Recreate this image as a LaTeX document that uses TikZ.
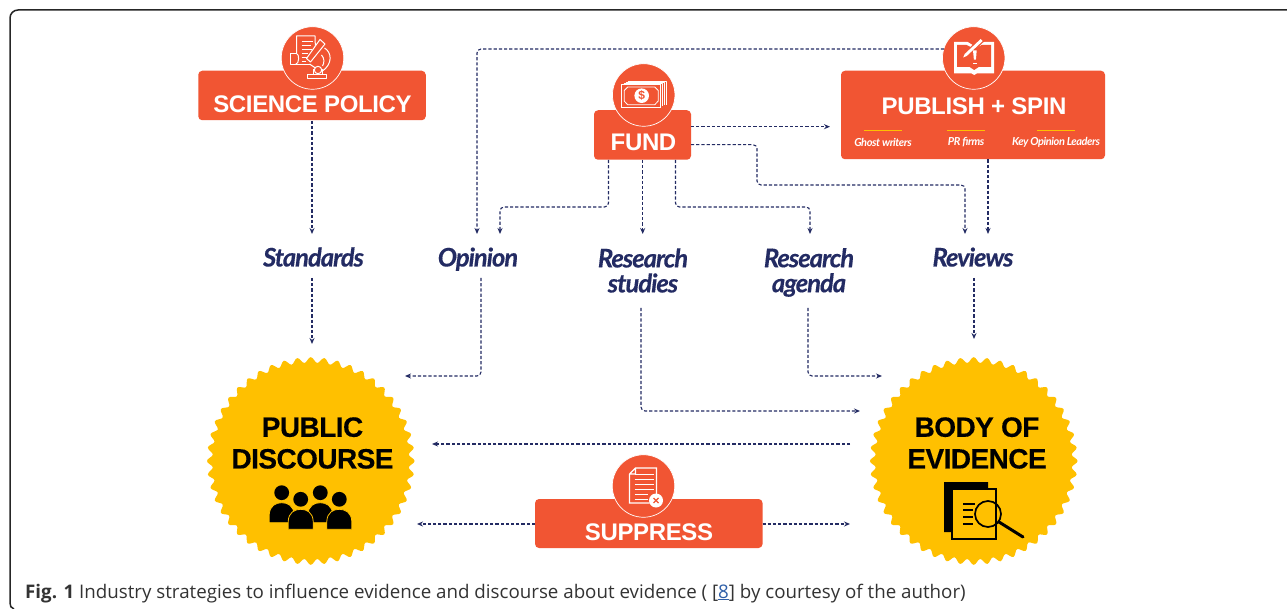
\documentclass[tikz,border=0pt]{standalone}
\usepackage{fontspec}
\setmainfont{Liberation Sans}
\newfontfamily\labfont[LetterSpace=-4,FakeBold=0.3]{Lato}
\newfontfamily\subfont[LetterSpace=-4]{Lato}
\newfontfamily\boxfont[LetterSpace=-1.5]{Liberation Sans}
\newfontfamily\sealfont[LetterSpace=-2,FakeBold=0.3]{Liberation Sans}
\newfontfamily\capfont{Open Sans}
\usetikzlibrary{arrows.meta,calc}
\definecolor{navy}{HTML}{232B63}
\definecolor{brick}{HTML}{F15533}
\definecolor{seal}{HTML}{FFC000}
\definecolor{capgray}{HTML}{333333}
\definecolor{linkblue}{HTML}{2F5FA8}
\tikzset{
  x=1pt,y=-1pt,
  conn/.style={draw=navy,line width=1.1pt,dash pattern=on 3.2pt off 2pt,rounded corners=4pt,-{Stealth[length=6pt,width=5pt]}},
  box/.style={fill=brick,rounded corners=4pt,inner sep=0pt},
  boxtext/.style={anchor=base,inner sep=0pt,text=white,font=\boxfont\fontsize{24}{24}\selectfont\bfseries},
  badge/.style={circle,fill=brick,draw=white,line width=0.7pt,minimum size=62.5pt,inner sep=0pt},
  lab/.style={inner sep=0pt,align=center,text=navy,font=\labfont\fontsize{25.6}{25}\selectfont\bfseries\itshape},
  sealtext/.style={inner sep=0pt,align=center,text=black,font=\sealfont\fontsize{28}{31.7}\selectfont\bfseries},
  ico/.style={draw=white,line width=1pt,line join=round},
  sub/.style={inner sep=0pt,text=white,font=\subfont\fontsize{11}{12}\selectfont\bfseries\itshape},
  goldrule/.style={seal,line width=0.9pt},
}
\newcommand{\sealshape}[2]{%
  \begin{scope}[shift={(#1,#2)}]
  \fill[seal] plot[smooth cycle,domain=0:47.875,samples=384] ({7.5*\x}:{101+2.8*cos(360*mod(\x,1))});
  \end{scope}}
\newcommand{\persona}[4]{%
    \fill[black,draw=#4,line width=0.8pt] ({#1-12.5},{#2+30}) -- ({#1-12.5},{#2+22}) .. controls ({#1-12},{#2+13}) and ({#1-6},{#2+10}) .. (#1,{#2+10}) .. controls ({#1+6},{#2+10}) and ({#1+12},{#2+13}) .. ({#1+12.5},{#2+22}) -- ({#1+12.5},{#2+30}) -- cycle;
    \fill[black] (#1,#2) circle (#3);}
\begin{document}
\begin{tikzpicture}
\useasboundingbox (0,0) rectangle (1287,609);
\fill[white] (0,0) rectangle (1287,609);
\draw[black!85,line width=1.5pt,rounded corners=8pt] (10,603) -- (10,10) -- (1287,10);
\draw[black!85,line width=1.5pt] (10,603) .. controls (10,606) and (11,608) .. (14,609);

% seals
\sealshape{310.8}{461}
\sealshape{973.7}{461}
\node[sealtext] (pdt) at (312.5,443) {PUBLIC\\DISCOURSE};
\node[sealtext] (boet) at (977,443) {BODY OF\\EVIDENCE};

% boxes
\node[box,minimum width=227.5pt,minimum height=49.5pt] (sci) at (312,95.5) {};
\node[boxtext] (scit) at (312.5,113) {SCIENCE POLICY};
\node[badge] (sciicon) at (312.5,58) {};
\node[box,minimum width=97pt,minimum height=49.5pt] (fund) at (642.5,135) {};
\node[boxtext] (fundt) at (643.5,151) {FUND};
\node[badge] (fundicon) at (643.7,95) {};
\node[box,minimum width=264pt,minimum height=88.5pt] (pub) at (973,115) {};
\node[boxtext] (pubt) at (974,115) {PUBLISH + SPIN};
\node[badge] (pubicon) at (973.7,58) {};
\node[box,minimum width=227.5pt,minimum height=49pt] (sup) at (648.8,523.5) {};
\node[boxtext] (supt) at (649,540) {SUPPRESS};
\node[badge] (supicon) at (643.5,486) {};

% publish sub labels
\node[sub] (gw) at (883,142) {Ghost writers};
\node[sub] (pr) at (966,142) {PR firms};
\node[sub] (kol) at (1056,142.5) {Key Opinion Leaders};
\path (883,130) coordinate (gc) (966,130) coordinate (pc) (1056,130) coordinate (kc);
\draw[goldrule] ($(gc)+(-19,0)$) -- ($(gc)+(19,0)$);
\draw[goldrule] ($(pc)+(-19,0)$) -- ($(pc)+(19,0)$);
\draw[goldrule] ($(kc)+(-19,0)$) -- ($(kc)+(19,0)$);

% free ends
\coordinate (pubL) at (944,49);
\coordinate (opinIn) at (477,234);
\coordinate (fundR1) at (691,126.7);
\coordinate (pubIn) at (830,126.7);
\coordinate (fundR2) at (691,144.7);
\coordinate (revIn1) at (965,234);
\coordinate (revIn2) at (988,234);
\coordinate (pubOut) at (988,159.5);
\coordinate (fundB1) at (608.5,160);
\coordinate (opinIn2) at (500,234);
\coordinate (fundB2) at (642.7,160);
\coordinate (fundB3) at (675.5,160);
\coordinate (agIn) at (810,234);
\coordinate (resIn) at (642.7,234);
\coordinate (stdIn) at (312,234);
\coordinate (sciOut) at (312,121);
\coordinate (stdOut) at (312,278);
\coordinate (pdTop) at (312,344);
\coordinate (opOut) at (481,278);
\coordinate (pdIn1) at (405,376);
\coordinate (stOut) at (641,308);
\coordinate (boeIn1) at (860,411);
\coordinate (agOut) at (808,308);
\coordinate (boeIn2) at (882,376);
\coordinate (boeOut) at (850,444);
\coordinate (pdIn2) at (432,444);
\coordinate (supL) at (535,524);
\coordinate (supR) at (762.5,524);
\coordinate (pdIn3) at (417,524);
\coordinate (boeIn3) at (850,524);
\coordinate (revOut) at (974,278);
\coordinate (boeTop) at (974,339);

% labels
\node[lab,anchor=base] (standards) at (313.5,266.5) {Standards};
\node[lab,anchor=base] (opinion) at (478,266.5) {Opinion};
\node[lab] (studies) at (643,270.5) {Research\\studies};
\node[lab] (agenda) at (809,272.5) {Research\\agenda};
\node[lab,anchor=base] (reviews) at (973,266.5) {Reviews};

% connectors
\draw[conn] (sciOut) -- (stdIn);
\draw[conn] (stdOut) -- (pdTop);
\draw[conn] (pubL) -| (opinIn);
\draw[conn] (opOut) |- (pdIn1);
\draw[conn] (fundR1) -- (pubIn);
\draw[conn] (fundR2) -- (757,144.7) -- (757,185) -- (965,185) -- (revIn1);
\draw[conn] (pubOut) -- (revIn2);
\draw[conn] (fundB1) -- (608.5,207) -- (500,207) -- (opinIn2);
\draw[conn] (fundB2) -- (resIn);
\draw[conn] (fundB3) -- (675.5,207) -- (810,207) -- (agIn);
\draw[conn] (revOut) -- (boeTop);
\draw[conn] (stOut) |- (boeIn1);
\draw[conn] (agOut) |- (boeIn2);
\draw[conn] (boeOut) -- (pdIn2);
\draw[conn] (supL) -- (pdIn3);
\draw[conn] (supR) -- (boeIn3);

% science icon
\begin{scope}[shift={(sciicon.center)}]
  \draw[ico] (-16,-4.5) -- (-16,-22) -- (2.5,-22) -- (3,-8);
  \draw[ico] (-16,-4.5) -- (-22,-4.5) -- (-22,6.5) -- (-2.5,6.5);
  \draw[ico] (-16,-4.5) .. controls (-13,-4.5) and (-13,6) .. (-17,6.5);
  \foreach \yy/\xe in {-17/0,-13/-2,-9/-1,-5/-5,-1/-6,3/-7}{\draw[white,line width=0.9pt] (-11,\yy) -- (\xe,\yy);}
  \draw[ico,fill=brick] (7.5,-18.5) -- (12.5,-14) -- (-2,4) -- (-6,0.5) -- cycle;
  \draw[ico] (12,-10) .. controls (19,-6) and (21,6) .. (9,13.7);
  \draw[ico] (9,-3) .. controls (12,0) and (12,5) .. (10,8);
  \draw[ico] (-5.5,17) rectangle (13.5,21);
  \draw[ico] (1,17) -- (1,12) -- (10,12) -- (10,17);
  \draw[ico,fill=brick] (5.5,12) circle (3.7);
  \draw[ico] (-3,6) -- (3,10);
\end{scope}

% money icon
\begin{scope}[shift={(fundicon.center)}]
  \foreach \d in {6,4,2}{\draw[ico,line width=0.8pt] ({-22+\d},{-10.7-0.45*\d}) -- ({17+\d},{-10.7-0.45*\d}) -- ({17+\d},{12.3-0.45*\d});}
  \draw[white,line width=1pt,fill=brick] (-22,-10.7) rectangle (17,12.3);
  \draw[white,line width=0.8pt] (-16,-8) -- (11,-8) -- (14.5,-4.5) -- (14.5,6) -- (11,9.8) -- (-16,9.8) -- (-19.5,6) -- (-19.5,-4.5) -- cycle;
  \fill[white] (-2,0.7) circle (7.3);
  \node[inner sep=0pt,text=brick,font=\fontsize{12}{12}\selectfont\bfseries] (dollar) at (-2,0.7) {\$};
\end{scope}

% book icon
\begin{scope}[shift={(pubicon.center)}]
  \fill[white] (-19.5,-16) -- (-19.5,15.5) -- (-2,15.5) -- (0.5,17) -- (3,15.5) -- (20.5,15.5) -- (20.5,-16) -- (7,-16) -- (0.5,-12) -- (-6,-16) -- cycle;
  \fill[brick] (-16.5,-13) -- (-7,-13) -- (0.5,-9) -- (8,-13) -- (17.5,-13) -- (17.5,9) -- (5,9) -- (0.5,12) -- (-4,9) -- (-16.5,9) -- cycle;
  \draw[brick,line width=5.5pt] (-10,-1) -- (9,-19);
  \fill[white] (-10.5,-0.5) -- (-9,-4) -- (7,-19) -- (9,-17) -- (-7,-2) -- cycle;
  \fill[white] (-0.7,-7.6) -- (3,-7.6) -- (2.2,1.7) -- (0.2,1.7) -- cycle;
  \fill[white] (-0.9,4.8) rectangle (3.3,6.3);
\end{scope}

% suppress icon
\begin{scope}[shift={(supicon.center)}]
  \draw[white,line width=1.3pt] (-14,-12) -- (-8,-18) -- (13,-18) -- (13,9) (-14,-12) -- (-14,17) -- (6,17) (-14,-12) -- (-8,-12) -- (-8,-18);
  \foreach \yy in {-12,-7,-2,3,8,13}{\draw[white,line width=0.9pt] (-9,\yy) -- ({\yy>5?4:10},\yy);}
  \fill[white] (12.5,14.5) circle (7);
  \draw[brick,line width=1.3pt] (10,12) -- (15,17) (15,12) -- (10,17);
\end{scope}

% people icon
\begin{scope}[shift={(312,515)}]
  \persona{-30.3}{-22.3}{7.4}{seal}
  \persona{8.3}{-22.3}{7.4}{seal}
  \persona{-11.3}{-15.7}{7.4}{seal}
  \persona{27.3}{-15.7}{7.4}{seal}
\end{scope}

% evidence icon
\begin{scope}[shift={(974,515)}]
  \fill[black] (-30,-33) -- (14,-33) -- (14,-26) -- (-22,-26) -- (-22,17) -- (-30,17) -- cycle;
  \draw[black,line width=1.5pt] (-22,-26) -- (22,-26) -- (22,24) -- (-22,24) -- cycle;
  \foreach \yy/\xe in {-11/1,-5/-1,2/-1,9/-1}{\draw[black,line width=1.5pt] (-11,\yy) -- (\xe,\yy);}
  \draw[black,line width=1.7pt] (14,-1) circle (13);
  \draw[black,line width=3pt,line cap=round] (25,7) -- (49,22);
\end{scope}

% caption
\node[anchor=base west,inner sep=0pt,text=capgray,font=\capfont\fontsize{18.74}{20}\selectfont] (caption) at (25,598) {\textbf{Fig. 1} Industry strategies to influence evidence and discourse about evidence ( [\textcolor{linkblue}{\underline{8}}] by courtesy of the author)};
\end{tikzpicture}
\end{document}
